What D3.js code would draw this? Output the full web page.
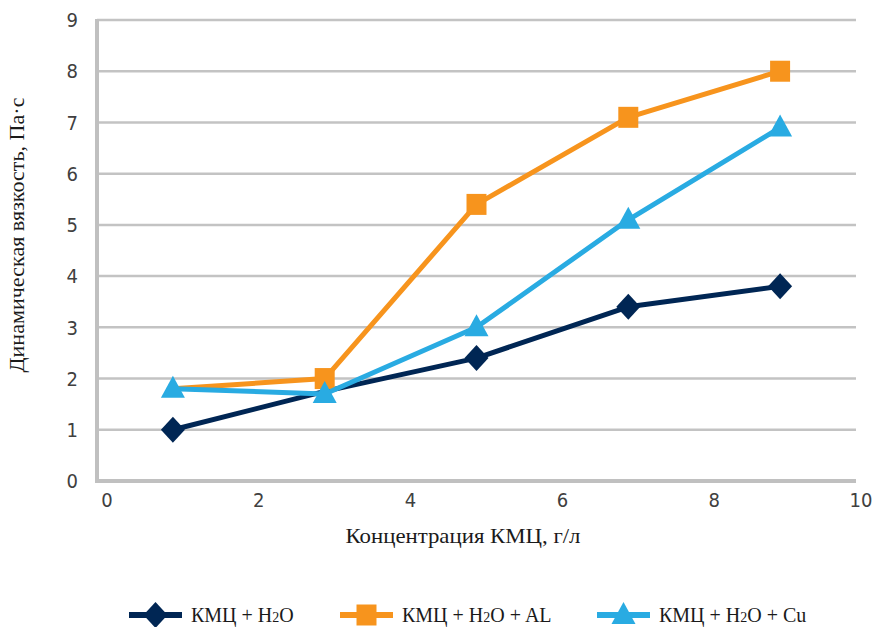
<!DOCTYPE html>
<html><head><meta charset="utf-8">
<script src="https://cdn.jsdelivr.net/npm/d3@7"></script>
<style>body{margin:0;background:#fff}svg{display:block}
.serif{font-family:"Liberation Serif","Times New Roman","DejaVu Serif",serif}</style>
</head><body>
<svg id="c" width="877" height="627"></svg>
<script>
const xValues = [1, 3, 5, 7, 9];
const seriesNames = ["КМЦ + H2O", "КМЦ + H2O + AL", "КМЦ + H2O + Cu"];
const h2oValues = [1.0, 1.75, 2.4, 3.4, 3.8];
const alValues = [1.8, 2.0, 5.4, 7.1, 8.0];
const cuValues = [1.8, 1.7, 3.0, 5.1, 6.9];
const xTicks = [0, 2, 4, 6, 8, 10];
const yTicks = [0, 1, 2, 3, 4, 5, 6, 7, 8, 9];
const xTitle = "Концентрация КМЦ, г/л";
const yTitle = "Динамическая вязкость, Па·с";
// marker points hidden under other series' markers in the original
const hiddenMarkers = [[1], [0], []];

const colors = ["#002654", "#f7941d", "#29abe2"];
const shapes = ["diamond", "square", "triangle"];
const series = [h2oValues, alValues, cuValues];

const svg = d3.select("#c");
const x = d3.scaleLinear().domain([0, 10]).range([97, 856]);
const y = d3.scaleLinear().domain([0, 9]).range([481, 20]);

function markerPath(shape) {
  if (shape === "diamond") return "M0,-13L12,0L0,13L-12,0Z";
  if (shape === "square") return "M-10,-10.5L10,-10.5L10,10.5L-10,10.5Z";
  return "M0,-13L12,9L-12,9Z";
}

svg.append("g").selectAll("line").data(yTicks.filter(d => d > 0)).join("line")
  .attr("x1", x(0)).attr("x2", x(10))
  .attr("y1", d => y(d)).attr("y2", d => y(d))
  .attr("stroke", "#c3c3c3").attr("stroke-width", 2.5);

svg.append("line").attr("x1", x(0)).attr("x2", x(0)).attr("y1", y(9) - 1).attr("y2", y(0) + 2)
  .attr("stroke", "#c0c0c0").attr("stroke-width", 4);
svg.append("line").attr("x1", x(0) - 2).attr("x2", x(10)).attr("y1", y(0)).attr("y2", y(0))
  .attr("stroke", "#c0c0c0").attr("stroke-width", 4);

const tickFont = "'DejaVu Sans Condensed', 'DejaVu Sans', sans-serif";
svg.append("g").selectAll("text").data(yTicks).join("text")
  .attr("x", 78).attr("y", d => y(d)).attr("dy", "0.36em")
  .attr("text-anchor", "end").attr("font-family", tickFont).attr("font-size", 20)
  .attr("fill", "#404040").text(d => d);
svg.append("g").selectAll("text").data(xTicks).join("text")
  .attr("x", d => x(d) + (d === 10 ? 5 : 10)).attr("y", 507)
  .attr("text-anchor", "middle").attr("font-family", tickFont).attr("font-size", 20)
  .attr("fill", "#404040").text(d => d);

svg.append("text").attr("class", "serif").attr("x", 463).attr("y", 543).attr("text-anchor", "middle")
  .attr("font-size", 21).attr("fill", "#1a1a1a")
  .attr("textLength", 235).attr("lengthAdjust", "spacingAndGlyphs").text(xTitle);
svg.append("text").attr("class", "serif").attr("transform", "translate(24,235) rotate(-90)").attr("text-anchor", "middle")
  .attr("font-size", 20).attr("fill", "#1a1a1a")
  .attr("textLength", 275).attr("lengthAdjust", "spacingAndGlyphs").text(yTitle);

const line = d3.line().x((d, i) => x(xValues[i])).y(d => y(d));
series.forEach((vals, k) => {
  const g = svg.append("g");
  g.append("path").attr("d", line(vals)).attr("fill", "none")
    .attr("stroke", colors[k]).attr("stroke-width", 5).attr("stroke-linejoin", "round");
  const pts = vals.map((v, i) => ({v, i})).filter(p => !hiddenMarkers[k].includes(p.i));
  g.selectAll("path.m").data(pts).join("path").attr("class", "m")
    .attr("transform", p => `translate(${x(xValues[p.i])},${y(p.v)})`)
    .attr("d", markerPath(shapes[k])).attr("fill", colors[k]);
});

const legX = [129, 340, 597];
const legY = 615;
series.forEach((vals, k) => {
  const g = svg.append("g").attr("transform", `translate(${legX[k]},${legY})`);
  g.append("line").attr("x1", 0).attr("x2", 53).attr("y1", 0).attr("y2", 0)
    .attr("stroke", colors[k]).attr("stroke-width", 6);
  g.append("path").attr("transform", "translate(26.5,0)").attr("d", markerPath(shapes[k])).attr("fill", colors[k]);
  const t = g.append("text").attr("class", "serif").attr("x", 62).attr("y", 7)
    .attr("font-size", 20).attr("fill", "#1a1a1a");
  const parts = seriesNames[k].split("2");
  t.append("tspan").text(parts[0]);
  t.append("tspan").attr("font-size", 14).text("2");
  t.append("tspan").text(parts[1]);
});
</script>
</body></html>
